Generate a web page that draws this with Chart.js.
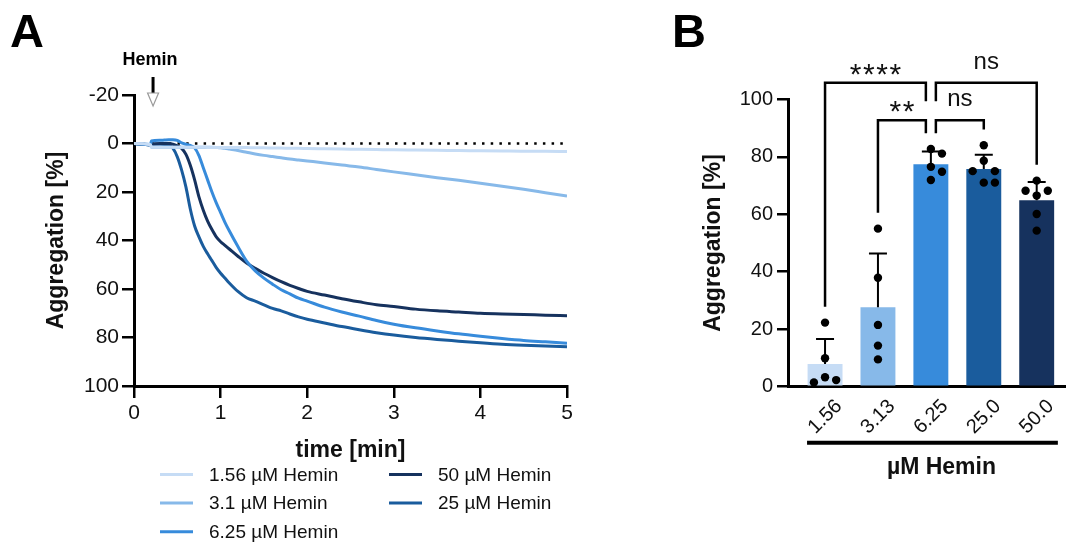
<!DOCTYPE html>
<html>
<head>
<meta charset="utf-8">
<script src="https://cdn.jsdelivr.net/npm/chart.js@4.4.1/dist/chart.umd.min.js"></script>
<style>
  html, body { margin: 0; padding: 0; background: #fff; }
  #wrap { position: relative; width: 1070px; height: 543px; overflow: hidden; }
  canvas { position: absolute; top: 0; }
  #chartA { left: 0; }
  #chartB { left: 600px; }
</style>
</head>
<body>
<div id="wrap">
  <canvas id="chartA" width="600" height="543"></canvas>
  <canvas id="chartB" width="470" height="543"></canvas>
</div>
<script>
// ---- Panel A : aggregation traces (time in min, aggregation in %) ----
const times = [
  0, 0.19, 0.2, 0.3, 0.35, 0.4, 0.45, 0.5, 0.55, 0.6,
  0.65, 0.7, 0.75, 0.8, 0.85, 0.9, 0.95, 1.0, 1.05, 1.1,
  1.2, 1.3, 1.4, 1.5, 1.6, 1.7, 1.8, 1.9, 2.0, 2.2,
  2.4, 2.6, 2.8, 3.0, 3.25, 3.5, 3.75, 4.0, 4.25, 4.5, 4.75, 5.0
];
const hemin156 = [
  0, 0.5, 1.5, 1.5, 1.5, 1.5, 1.5, 1.5, 1.5, 1.5,
  1.5, 1.5, 1.5, 1.5, 1.6, 1.6, 1.6, 1.6, 1.6, 1.7,
  1.7, 1.7, 1.8, 1.8, 1.9, 1.9, 2.0, 2.0, 2.1, 2.2,
  2.3, 2.4, 2.5, 2.6, 2.7, 2.8, 2.9, 3.0, 3.1, 3.2, 3.2, 3.3
];
const hemin31 = [
  0, 0.5, 1.5, 1.5, 1.5, 1.5, 1.5, 1.5, 1.5, 1.5,
  1.5, 1.5, 1.5, 1.5, 1.5, 1.5, 1.6, 1.8, 2.0, 2.3,
  2.9, 3.6, 4.3, 4.9, 5.4, 5.9, 6.4, 6.8, 7.2, 8.0,
  8.9, 9.7, 10.7, 11.7, 12.9, 14.1, 15.2, 16.4, 17.6, 18.9, 20.3, 21.7
];
const hemin625 = [
  0, 0.5, -1.0, -1.3, -1.4, -1.5, -1.5, -1.3, -0.3, 0.3,
  0.8, 1.8, 5.0, 10.0, 15.0, 20.0, 24.5, 28.5, 32.5, 36.0,
  42.5, 48.5, 52.5, 55.5, 58.0, 60.3, 62.0, 63.8, 65.0, 67.5,
  69.5, 71.2, 73.0, 74.5, 76.0, 77.3, 78.5, 79.5, 80.4, 81.2, 81.8, 82.4
];
const hemin50 = [
  0, 0.5, 0.2, 0, 0, 0, 0.3, 1.0, 2.0, 4.5,
  9.0, 15.0, 22.0, 27.5, 32.0, 35.5, 38.5, 40.5, 42.0, 43.5,
  46.5, 49.3, 51.5, 53.5, 55.3, 57.0, 58.5, 59.8, 61.0, 62.5,
  64.0, 65.3, 66.5, 67.2, 68.3, 69.0, 69.5, 70.0, 70.3, 70.5, 70.8, 71.0
];
const hemin25 = [
  0, 0.5, 0.3, 0.3, 0.4, 0.8, 2.0, 5.5, 11.0, 18.0,
  27.0, 34.0, 38.5, 42.4, 45.5, 48.3, 51.2, 53.5, 55.5, 57.5,
  61.0, 63.6, 65.0, 66.5, 68.0, 69.0, 70.3, 71.5, 72.5, 74.0,
  75.5, 76.8, 78.0, 79.0, 80.0, 80.8, 81.5, 82.2, 82.8, 83.2, 83.5, 83.8
];
const baselineTimes = [0, 5];
const baselineValues = [0, 0];
const heminTime = 0.22;          // Zeitpunkt der Hemin-Zugabe
const timeTicks = [0, 1, 2, 3, 4, 5];
const traceTicks = [-20, 0, 20, 40, 60, 80, 100];

// ---- Panel B : end-point aggregation per dose ----
const doseLabels = ['1.56', '3.13', '6.25', '25.0', '50.0'];
const rep156 = [22.3, 9.9, 3.3, 2.3, 1.5];
const rep313 = [55.0, 37.9, 21.5, 14.3, 9.5];
const rep625 = [82.7, 81.1, 76.5, 74.8, 71.9];
const rep250 = [84.0, 78.6, 75.0, 75.0, 71.0, 71.0];
const rep500 = [71.7, 68.2, 68.2, 66.5, 60.1, 54.3];
const barTicks = [0, 20, 40, 60, 80, 100];
// comparisons: [group a, group b, result]
const comparisons = [
  [0, 2, '****'],
  [1, 2, '**'],
  [2, 3, 'ns'],
  [2, 4, 'ns']
];

const COL = ['#c6dcf5', '#87b9e9', '#378bdb', '#1a5c9d', '#16325e'];
const FONT = "'Liberation Sans', Arial, Helvetica, sans-serif";
Chart.defaults.font.family = FONT;
Chart.defaults.color = '#111';

function pairs(xs, ys) {
  return xs.map((x, i) => ({ x: x, y: ys[i] }));
}
function mean(a) {
  return a.reduce((s, v) => s + v, 0) / a.length;
}
function sd(a) {
  const m = mean(a);
  return Math.sqrt(a.reduce((s, v) => s + (v - m) * (v - m), 0) / (a.length - 1));
}

// Panel-Buchstabe oben links
function panelLetter(letter, x) {
  return {
    id: 'letter' + letter,
    afterDraw(chart) {
      const ctx = chart.ctx;
      ctx.save();
      ctx.font = 'bold 47px ' + FONT;
      ctx.fillStyle = '#000';
      ctx.textBaseline = 'alphabetic';
      ctx.fillText(letter, x, 47);
      ctx.restore();
    }
  };
}

// Pfeil "Hemin" über der Kurve
const heminMarker = {
  id: 'heminMarker',
  afterDraw(chart) {
    const ctx = chart.ctx;
    const x = chart.scales.x.getPixelForValue(heminTime);
    ctx.save();
    ctx.font = 'bold 18px ' + FONT;
    ctx.fillStyle = '#000';
    ctx.textAlign = 'center';
    ctx.textBaseline = 'middle';
    ctx.fillText('Hemin', x - 3, 60);
    ctx.strokeStyle = '#000';
    ctx.lineWidth = 3;
    ctx.beginPath();
    ctx.moveTo(x, 77);
    ctx.lineTo(x, 93);
    ctx.stroke();
    ctx.strokeStyle = '#9a9a9a';
    ctx.lineWidth = 1.2;
    ctx.beginPath();
    ctx.moveTo(x - 5.5, 93);
    ctx.lineTo(x + 5.5, 93);
    ctx.lineTo(x, 106);
    ctx.closePath();
    ctx.stroke();
    ctx.restore();
  }
};

// Legende in zwei Spalten unter dem Diagramm
const legendA = {
  id: 'legendA',
  afterDraw(chart) {
    const ctx = chart.ctx;
    const items = chart.data.datasets.filter(d => !d.noLegend);
    ctx.save();
    ctx.font = '19px ' + FONT;
    ctx.textBaseline = 'middle';
    items.forEach((d, i) => {
      const col = i < 3 ? 0 : 1;
      const row = i < 3 ? i : i - 3;
      const x = col === 0 ? 160 : 389;
      const y = 474.5 + row * 28.6;
      ctx.strokeStyle = d.borderColor;
      ctx.lineWidth = 3;
      ctx.beginPath();
      ctx.moveTo(x, y);
      ctx.lineTo(x + 33, y);
      ctx.stroke();
      ctx.fillStyle = '#111';
      ctx.fillText(d.label, x + 49, y + 1);
    });
    ctx.restore();
  }
};

function traceSet(label, values, color, order) {
  return {
    label: label,
    data: pairs(times, values),
    borderColor: color,
    borderWidth: 3,
    pointRadius: 0,
    fill: false,
    cubicInterpolationMode: 'monotone',
    order: order
  };
}

new Chart(document.getElementById('chartA'), {
  type: 'line',
  data: {
    datasets: [
      traceSet('1.56 µM Hemin', hemin156, COL[0], 1),
      traceSet('3.1 µM Hemin', hemin31, COL[1], 2),
      traceSet('6.25 µM Hemin', hemin625, COL[2], 3),
      traceSet('50 µM Hemin', hemin50, COL[4], 4),
      traceSet('25 µM Hemin', hemin25, COL[3], 5),
      {
        label: 'baseline',
        noLegend: true,
        data: pairs(baselineTimes, baselineValues),
        borderColor: '#000',
        borderWidth: 2.5,
        borderDash: [2.5, 6.2],
        pointRadius: 0,
        order: 10
      }
    ]
  },
  options: {
    responsive: false,
    animation: false,
    layout: { padding: { left: 0, top: 95, right: 33, bottom: 77 } },
    plugins: { legend: { display: false }, tooltip: { enabled: false } },
    scales: {
      x: {
        type: 'linear', min: 0, max: 5,
        afterBuildTicks: s => { s.ticks = timeTicks.map(v => ({ value: v })); },
        ticks: { font: { size: 21 }, color: '#111', padding: 3 },
        grid: { drawOnChartArea: false, drawTicks: true, tickLength: 12, color: '#000', lineWidth: 2.5 },
        border: { color: '#000', width: 3 },
        title: { display: true, text: 'time [min]', color: '#111', font: { size: 23, weight: 'bold' }, padding: { top: 0, bottom: 2 } },
        afterFit: s => { s.height = 80; }
      },
      y: {
        type: 'linear', min: -20, max: 100, reverse: true,
        afterBuildTicks: s => { s.ticks = traceTicks.map(v => ({ value: v })); },
        ticks: { font: { size: 21 }, color: '#111', padding: 3 },
        grid: { drawOnChartArea: false, drawTicks: true, tickLength: 12, color: '#000', lineWidth: 2.5 },
        border: { color: '#000', width: 3 },
        title: { display: true, text: 'Aggregation [%]', color: '#111', font: { size: 23, weight: 'bold' }, padding: { top: 43, bottom: 0 } },
        afterFit: s => { s.width = 134; }
      }
    }
  },
  plugins: [heminMarker, legendA, panelLetter('A', 10)]
});

// ---- Panel B ----
const groups = [rep156, rep313, rep625, rep250, rep500];

// einfache Beeswarm-Verteilung der Einzelwerte
function swarm(values, idx) {
  const placed = [];
  values.slice().sort((a, b) => b - a).forEach(v => {
    const slots = [0, 1, -1, 2, -2, 3, -3];
    let k = 0;
    for (const c of slots) {
      if (!placed.some(p => p.k === c && Math.abs(p.v - v) < 3.8)) { k = c; break; }
    }
    placed.push({ v: v, k: k });
  });
  return placed.map(p => ({ x: idx + p.k * 0.21, y: p.v }));
}

const errorBars = {
  id: 'errorBars',
  afterDatasetDraw(chart, args) {
    if (args.index !== 0) return;
    const ctx = chart.ctx;
    const y = chart.scales.y;
    ctx.save();
    ctx.strokeStyle = '#000';
    ctx.lineWidth = 2;
    args.meta.data.forEach((bar, i) => {
      const top = y.getPixelForValue(mean(groups[i]) + sd(groups[i]));
      ctx.beginPath();
      ctx.moveTo(bar.x, bar.y);
      ctx.lineTo(bar.x, top);
      ctx.moveTo(bar.x - 9, top);
      ctx.lineTo(bar.x + 9, top);
      ctx.stroke();
    });
    ctx.restore();
  }
};

const brackets = {
  id: 'brackets',
  afterDraw(chart) {
    const ctx = chart.ctx;
    const xs = chart.scales.x, ys = chart.scales.y;
    const base = 92.7, step = 13.1, shift = 5;
    const comps = comparisons.map(c => ({ a: c[0], b: c[1], text: c[2], level: c[1] - c[0] - 1 }));
    const levelY = l => base + l * step;
    const legBottom = (g, level) => {
      const inner = comps.some(o => o.level < level && (o.a === g || o.b === g));
      return inner ? levelY(level - 1) + 6.6 : Math.max(...groups[g]) + 5.5;
    };
    ctx.save();
    ctx.strokeStyle = '#000';
    ctx.lineWidth = 2.5;
    ctx.fillStyle = '#111';
    comps.forEach(c => {
      const xa = xs.getPixelForValue(c.a) + (comps.some(o => o.b === c.a) ? shift : 0);
      const xb = xs.getPixelForValue(c.b) - (comps.some(o => o.a === c.b) ? shift : 0);
      const yb = ys.getPixelForValue(levelY(c.level));
      ctx.beginPath();
      ctx.moveTo(xa, ys.getPixelForValue(legBottom(c.a, c.level)));
      ctx.lineTo(xa, yb);
      ctx.lineTo(xb, yb);
      ctx.lineTo(xb, ys.getPixelForValue(legBottom(c.b, c.level)));
      ctx.stroke();
      const mid = (xa + xb) / 2;
      ctx.textBaseline = 'alphabetic';
      if (c.text.indexOf('*') >= 0) {
        ctx.font = '30px ' + FONT;
        ctx.letterSpacing = '1.6px';
        const w = ctx.measureText(c.text).width - 1.6;
        ctx.textAlign = 'left';
        ctx.fillText(c.text, mid - w / 2, yb + 1);
        ctx.letterSpacing = '0px';
      } else {
        ctx.font = '24px ' + FONT;
        ctx.textAlign = 'center';
        ctx.fillText(c.text, mid, yb - 14);
      }
    });
    // Gruppenbalken und Achsentitel unter den Dosen
    const lineY = 442.7;
    ctx.lineWidth = 4;
    ctx.beginPath();
    ctx.moveTo(xs.getPixelForValue(-0.34), lineY);
    ctx.lineTo(xs.getPixelForValue(4.4), lineY);
    ctx.stroke();
    ctx.font = 'bold 23px ' + FONT;
    ctx.textAlign = 'center';
    ctx.textBaseline = 'middle';
    ctx.fillText('µM Hemin', xs.getPixelForValue(2.2), 468);
    ctx.restore();
  }
};

new Chart(document.getElementById('chartB'), {
  type: 'bar',
  data: {
    datasets: [
      {
        type: 'bar',
        label: 'mean',
        data: groups.map((g, i) => ({ x: i, y: mean(g) })),
        backgroundColor: COL,
        borderWidth: 0,
        barPercentage: 0.66,
        categoryPercentage: 1,
        order: 1
      },
      {
        type: 'scatter',
        label: 'replicates',
        data: groups.map((g, i) => swarm(g, i)).flat(),
        pointRadius: 4.2,
        pointBackgroundColor: '#000',
        pointBorderWidth: 0,
        order: 0
      }
    ]
  },
  options: {
    responsive: false,
    animation: false,
    layout: { padding: { left: 0, top: 99.3, right: 0, bottom: 56.3 } },
    plugins: { legend: { display: false }, tooltip: { enabled: false } },
    scales: {
      x: {
        type: 'linear', min: -0.7, max: 4.55, offset: false,
        afterBuildTicks: s => { s.ticks = doseLabels.map((_, i) => ({ value: i })); },
        ticks: {
          font: { size: 20 }, color: '#111', padding: 8, labelOffset: 14,
          minRotation: 45, maxRotation: 45, autoSkip: false,
          callback: v => doseLabels[v]
        },
        grid: { display: false, drawTicks: false, offset: false },
        border: { color: '#000', width: 3 },
        afterFit: s => { s.height = 100; }
      },
      y: {
        type: 'linear', min: 0, max: 100,
        afterBuildTicks: s => { s.ticks = barTicks.map(v => ({ value: v })); },
        ticks: { font: { size: 20 }, color: '#111', padding: 4 },
        grid: { drawOnChartArea: false, drawTicks: true, tickLength: 11, color: '#000', lineWidth: 2.5 },
        border: { color: '#000', width: 3 },
        title: { display: true, text: 'Aggregation [%]', color: '#111', font: { size: 23, weight: 'bold' }, padding: { top: 100, bottom: 0 } },
        afterFit: s => { s.width = 188; }
      }
    }
  },
  plugins: [errorBars, brackets, panelLetter('B', 72)]
});
</script>
</body>
</html>
